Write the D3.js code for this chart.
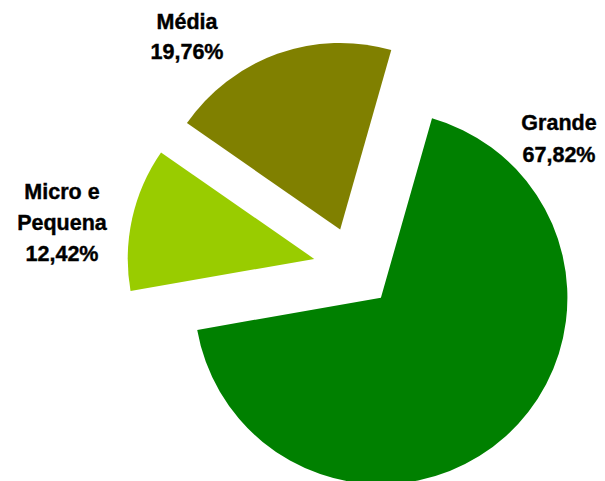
<!DOCTYPE html>
<html>
<head>
<meta charset="utf-8">
<script src="https://cdn.jsdelivr.net/npm/d3@7"></script>
<style>
  html, body { margin: 0; padding: 0; background: #fff; }
  svg { display: block; }
  text { font-family: "Liberation Sans", Arial, sans-serif; font-weight: bold; fill: #000; stroke: #000; stroke-width: 0.4px; }
</style>
</head>
<body>
<svg id="chart" width="605" height="481"></svg>
<script>
// Data
const categories = ["Grande", "Micro e Pequena", "Média"];
const values = [67.82, 12.42, 19.76];
const labelLines = [["Grande", "67,82%"], ["Micro e", "Pequena", "12,42%"], ["Média", "19,76%"]];
const colors = ["#008000", "#99CC00", "#808000"];

// Layout
const W = 605, H = 481;
const cx = 353.8, cy = 267.6, radius = 186.5, explode = 40.5;
const startDeg = 15.9;
const labelPos = [[559, 129.5], [62, 198.5], [187, 28.5]];
const lineGaps = [32, 31, 30];

const svg = d3.select("#chart");

const pie = d3.pie().sort(null).value(d => d)
  .startAngle(startDeg * Math.PI / 180)
  .endAngle(startDeg * Math.PI / 180 + 2 * Math.PI);
const arcs = pie(values);
const arc = d3.arc().innerRadius(0).outerRadius(radius);

const g = svg.append("g").attr("transform", `translate(${cx},${cy})`);

g.selectAll("path").data(arcs).join("path")
  .attr("d", arc)
  .attr("fill", (d, i) => colors[i])
  .attr("transform", d => {
    const mid = (d.startAngle + d.endAngle) / 2;
    return `translate(${explode * Math.sin(mid)},${-explode * Math.cos(mid)})`;
  });

const labels = svg.selectAll("g.label").data(categories).join("g").attr("class", "label");
labels.each(function(c, i) {
  const t = d3.select(this).append("text")
    .attr("text-anchor", "middle")
    .attr("font-size", 21.5)
    .attr("x", labelPos[i][0])
    .attr("y", labelPos[i][1]);
  labelLines[i].forEach((line, j) => {
    t.append("tspan").attr("x", labelPos[i][0]).attr("y", labelPos[i][1] + j * lineGaps[i]).text(line);
  });
});
</script>
</body>
</html>
